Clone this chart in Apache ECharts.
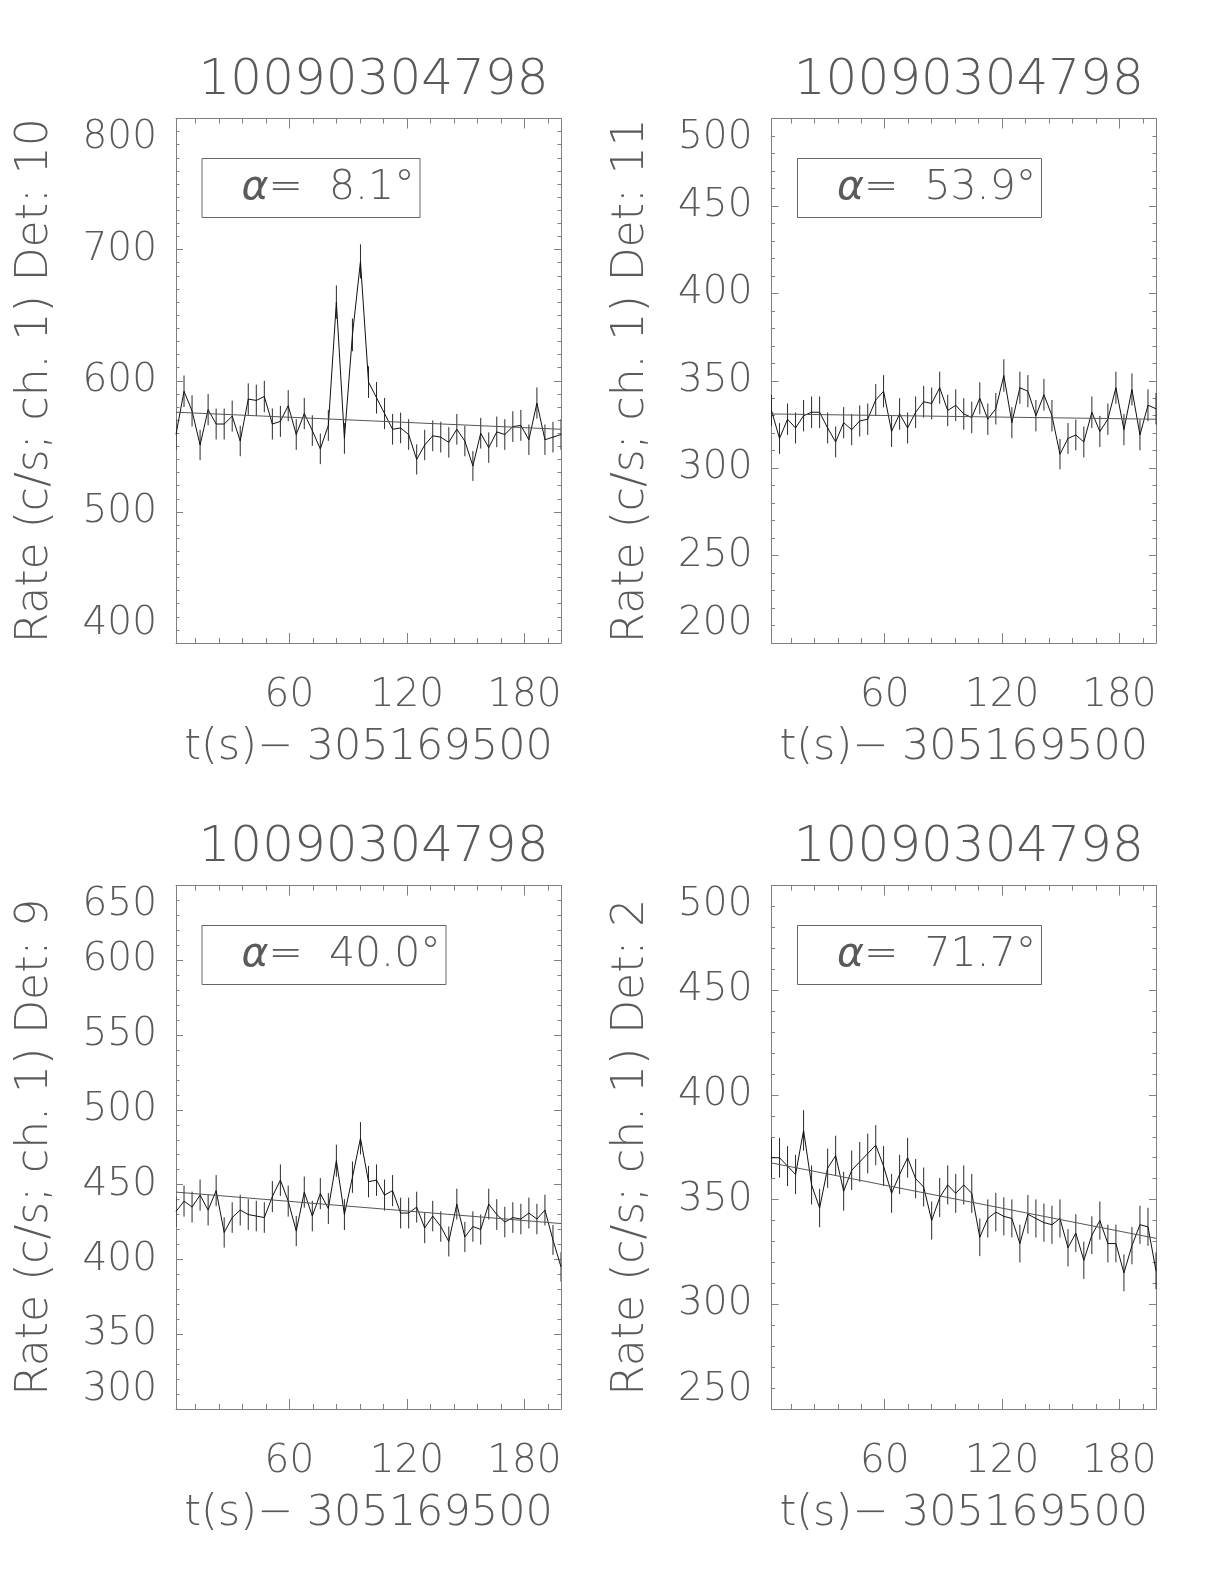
<!DOCTYPE html>
<html><head><meta charset="utf-8">
<script src="https://cdn.jsdelivr.net/npm/echarts@6/dist/echarts.min.js"></script>
<style>html,body{margin:0;padding:0;background:#fff;}#c{width:1224px;height:1584px;}</style>
</head><body><div id="c"></div>
<script>
// ---- data (time relative to 305169500 s) ----
const T = [2.1, 6.2, 10.3, 14.4, 18.5, 22.6, 26.7, 30.8, 34.9, 39.0, 43.1, 47.2, 51.3, 55.4, 59.4, 63.5, 67.6, 71.7, 75.8, 79.9, 84.0, 88.1, 92.2, 96.3, 100.4, 104.5, 108.6, 112.7, 116.8, 120.9, 125.0, 129.1, 133.2, 137.3, 141.4, 145.5, 149.6, 153.7, 157.7, 161.8, 165.9, 170.0, 174.1, 178.2, 182.3, 186.4, 190.5, 194.6, 198.7];

const RATE_DET10 = [559, 592, 577, 551, 578, 567, 567, 573, 554, 586, 585, 588, 567, 569, 581, 559, 575, 562, 548, 566, 660, 556, 635, 691, 599, 587, 575, 563, 564, 559, 540, 551, 558, 557, 553, 563, 554, 535, 560, 549, 561, 559, 565, 566, 555, 583, 555, 557, 559];
const ERR_DET10 = [11.7, 12.0, 11.9, 11.6, 11.9, 11.8, 11.8, 11.8, 11.6, 12.0, 12.0, 12.0, 11.8, 11.8, 11.9, 11.7, 11.9, 11.7, 11.6, 11.8, 12.7, 11.7, 12.5, 13.0, 12.1, 12.0, 11.9, 11.7, 11.7, 11.7, 11.5, 11.6, 11.7, 11.7, 11.6, 11.7, 11.6, 11.4, 11.7, 11.6, 11.7, 11.7, 11.7, 11.8, 11.6, 11.9, 11.6, 11.7, 11.7];
const FIT_DET10 = [576, 563];

const RATE_DET11 = [333, 317, 328, 323, 330, 332, 332, 323, 315, 326, 322, 327, 328, 339, 344, 321, 331, 323, 332, 338, 337, 346, 333, 336, 331, 329, 340, 328, 334, 353, 326, 346, 344, 330, 342, 330, 308, 317, 319, 315, 332, 321, 328, 346, 322, 345, 319, 336, 334];
const ERR_DET11 = [9.0, 8.8, 9.0, 8.9, 9.0, 9.0, 9.0, 8.9, 8.8, 8.9, 8.9, 8.9, 9.0, 9.1, 9.2, 8.9, 9.0, 8.9, 9.0, 9.1, 9.1, 9.2, 9.0, 9.1, 9.0, 9.0, 9.1, 9.0, 9.0, 9.3, 8.9, 9.2, 9.2, 9.0, 9.1, 9.0, 8.7, 8.8, 8.8, 8.8, 9.0, 8.9, 9.0, 9.2, 8.9, 9.2, 8.8, 9.1, 9.0];
const FIT_DET11 = [331, 328];

const RATE_DET9 = [432, 439, 435, 443, 433, 446, 418, 428, 433, 430, 429, 428, 442, 453, 439, 419, 445, 429, 444, 434, 466, 430, 455, 481, 452, 453, 443, 446, 431, 431, 435, 421, 429, 422, 412, 437, 415, 422, 420, 437, 430, 425, 428, 427, 431, 427, 433, 413, 395];
const ERR_DET9 = [10.3, 10.4, 10.3, 10.4, 10.3, 10.4, 10.1, 10.2, 10.3, 10.3, 10.2, 10.2, 10.4, 10.5, 10.4, 10.1, 10.4, 10.2, 10.4, 10.3, 10.7, 10.3, 10.5, 10.8, 10.5, 10.5, 10.4, 10.4, 10.3, 10.3, 10.3, 10.1, 10.2, 10.2, 10.0, 10.3, 10.1, 10.2, 10.1, 10.3, 10.3, 10.2, 10.2, 10.2, 10.3, 10.2, 10.3, 10.0, 9.8];
const FIT_DET9 = [445, 424];

const RATE_DET2 = [370, 370, 366, 362, 383, 357, 346, 365, 371, 354, 364, 368, 372, 376, 366, 353, 362, 370, 360, 356, 340, 351, 357, 353, 357, 353, 332, 341, 344, 342, 341, 329, 343, 341, 339, 338, 341, 327, 334, 321, 333, 340, 329, 329, 315, 328, 338, 337, 316];
const ERR_DET2 = [9.5, 9.5, 9.5, 9.4, 9.7, 9.3, 9.2, 9.4, 9.5, 9.3, 9.4, 9.5, 9.5, 9.6, 9.5, 9.3, 9.4, 9.5, 9.4, 9.3, 9.1, 9.3, 9.3, 9.3, 9.3, 9.3, 9.0, 9.1, 9.2, 9.1, 9.1, 9.0, 9.2, 9.1, 9.1, 9.1, 9.1, 8.9, 9.0, 8.9, 9.0, 9.1, 9.0, 9.0, 8.8, 8.9, 9.1, 9.1, 8.8];
const FIT_DET2 = [367.5, 331.5];

const PANEL_TITLES = ['10090304798', '10090304798', '10090304798', '10090304798'];
const DETECTORS = ['10', '11', '9', '2'];
const ALPHA_LABELS = ['8.1', '53.9', '40.0', '71.7'];
const X_TITLE = 't(s)\u2212 305169500';
const X_MAJOR_TICKS = [60, 120, 180];
const X_MINOR_TICKS = [12, 24, 36, 48, 60, 72, 84, 96, 108, 120, 132, 144, 156, 168, 180, 192];
const Y_TICKS_DET10 = [400, 500, 600, 700, 800];
const Y_TICKS_DET11 = [200, 250, 300, 350, 400, 450, 500];
const Y_TICKS_DET9 = [300, 350, 400, 450, 500, 550, 600, 650];
const Y_TICKS_DET2 = [250, 300, 350, 400, 450, 500];
const Y_MINOR_SPLITS = [10, 5, 5, 5];

// ---- layout & style ----
const RATES = [RATE_DET10, RATE_DET11, RATE_DET9, RATE_DET2];
const ERRS = [ERR_DET10, ERR_DET11, ERR_DET9, ERR_DET2];
const FITS = [FIT_DET10, FIT_DET11, FIT_DET9, FIT_DET2];
const YTICKS = [Y_TICKS_DET10, Y_TICKS_DET11, Y_TICKS_DET9, Y_TICKS_DET2];
const LAYOUT = [
  {left: 176, top: 118.5, width: 385, height: 524.5},
  {left: 771.5, top: 118.5, width: 384.5, height: 524.5},
  {left: 176, top: 885.5, width: 385, height: 523.5},
  {left: 771.5, top: 885.5, width: 384.5, height: 523.5}
];
const FONT = "'DejaVu Sans', sans-serif";
const FW = 200;
const TXT = '#5a5a5a';
const AX = '#808080';
const XMIN = T[0], XMAX = T[T.length - 1];

const grid = [], xAxis = [], yAxis = [], series = [], title = [];

LAYOUT.forEach((L, g) => {
  grid.push({left: L.left, top: L.top, width: L.width, height: L.height, containLabel: false});
  const xBase = {gridIndex: g, type: 'value', min: XMIN, max: XMAX, splitLine: {show: false}};
  xAxis.push(Object.assign({}, xBase, {
    position: 'bottom',
    axisLine: {show: true, lineStyle: {color: AX, width: 1}},
    axisTick: {show: true, inside: true, length: 10, customValues: X_MAJOR_TICKS, lineStyle: {color: AX}},
    axisLabel: {show: true, customValues: X_MAJOR_TICKS, margin: 33, fontSize: 39, fontFamily: FONT, fontWeight: FW, color: TXT},
    name: X_TITLE, nameLocation: 'middle', nameGap: 83,
    nameTextStyle: {fontSize: 43, fontFamily: FONT, fontWeight: FW, color: TXT}
  }));
  xAxis.push(Object.assign({}, xBase, {
    position: 'bottom', axisLine: {show: false},
    axisTick: {show: true, inside: true, length: 5, customValues: X_MINOR_TICKS, lineStyle: {color: AX}},
    axisLabel: {show: false}
  }));
  xAxis.push(Object.assign({}, xBase, {
    position: 'top',
    axisLine: {show: true, lineStyle: {color: AX, width: 1}},
    axisTick: {show: true, inside: true, length: 10, customValues: X_MAJOR_TICKS, lineStyle: {color: AX}},
    axisLabel: {show: false}
  }));
  xAxis.push(Object.assign({}, xBase, {
    position: 'top', axisLine: {show: false},
    axisTick: {show: true, inside: true, length: 5, customValues: X_MINOR_TICKS, lineStyle: {color: AX}},
    axisLabel: {show: false}
  }));

  const yt = YTICKS[g];
  const yBase = {
    gridIndex: g, type: 'value', min: yt[0], max: yt[yt.length - 1], interval: yt[1] - yt[0],
    splitLine: {show: false},
    axisLine: {show: true, lineStyle: {color: AX, width: 1}},
    axisTick: {show: true, inside: true, length: 7, lineStyle: {color: AX}},
    minorTick: {show: true, splitNumber: Y_MINOR_SPLITS[g], length: 3.5, lineStyle: {color: AX}}
  };
  yAxis.push(Object.assign({}, yBase, {
    position: 'left',
    axisLabel: {show: true, margin: 19, fontSize: 39, fontFamily: FONT, fontWeight: FW, color: TXT,
      showMinLabel: true, showMaxLabel: true, verticalAlignMinLabel: 'bottom', verticalAlignMaxLabel: 'top'},
    name: 'Rate (c/s; ch. 1) Det: ' + DETECTORS[g], nameLocation: 'middle', nameGap: 118, nameRotate: 90,
    nameTextStyle: {fontSize: 44, fontFamily: FONT, fontWeight: FW, color: TXT}
  }));
  yAxis.push(Object.assign({}, yBase, {position: 'right', axisLabel: {show: false}}));

  const xi = 4 * g, yi = 2 * g;
  series.push({
    type: 'custom', xAxisIndex: xi, yAxisIndex: yi, clip: true, silent: true,
    encode: {x: 0, y: 1},
    data: T.map((t, i) => [t, RATES[g][i], ERRS[g][i]]),
    renderItem: function (params, api) {
      const x = api.value(0), y = api.value(1), e = api.value(2);
      const p1 = api.coord([x, y - e]);
      const p2 = api.coord([x, y + e]);
      return {type: 'line', shape: {x1: p1[0], y1: p1[1], x2: p2[0], y2: p2[1]},
        style: {stroke: '#2a2a2a', lineWidth: 1}};
    }
  });
  series.push({
    type: 'line', xAxisIndex: xi, yAxisIndex: yi, showSymbol: false, symbol: 'none', silent: true,
    data: T.map((t, i) => [t, RATES[g][i]]),
    lineStyle: {color: '#111', width: 1}
  });
  series.push({
    type: 'line', xAxisIndex: xi, yAxisIndex: yi, showSymbol: false, symbol: 'none', silent: true,
    data: [[XMIN, FITS[g][0]], [XMAX, FITS[g][1]]],
    lineStyle: {color: '#555', width: 1}
  });

  title.push({
    text: PANEL_TITLES[g], left: L.left + L.width / 2, textAlign: 'center', top: L.top - 67,
    textStyle: {fontSize: 50, fontFamily: FONT, fontWeight: FW, color: TXT}
  });
  title.push({
    text: '{a|\u03b1}=  ' + ALPHA_LABELS[g] + '\u00b0',
    left: L.left + 25.5, top: L.top + 39.5,
    borderColor: '#666', borderWidth: 1, padding: [8, 6, 8, 40],
    textStyle: {fontSize: 41, fontFamily: FONT, fontWeight: FW, color: TXT, lineHeight: 44,
      rich: {a: {fontSize: 41, fontFamily: FONT, fontWeight: FW, fontStyle: 'italic', color: TXT, lineHeight: 44}}}
  });
});

const chart = echarts.init(document.getElementById('c'), null, {renderer: 'canvas'});
chart.setOption({backgroundColor: '#fff', animation: false, grid, xAxis, yAxis, series, title});
</script></body></html>
